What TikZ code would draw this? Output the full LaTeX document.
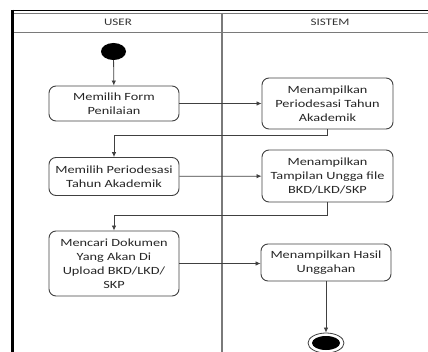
\documentclass[tikz,border=0pt]{standalone}
\usepackage{fontspec}
\newfontfamily\lanefont[FakeStretch=1.3]{Carlito}
\usetikzlibrary{shapes.geometric,arrows.meta}
\definecolor{boxline}{HTML}{404040}
\definecolor{laneline}{HTML}{7A7A7A}
\begin{document}
\begin{tikzpicture}[x=1pt,y=-1pt,
  act/.style={draw=boxline,line width=0.9pt,rounded corners=7pt,align=center,inner sep=0pt,
    text=black!85,font=\lanefont\fontsize{11}{14}\selectfont},
  flow/.style={draw=boxline,line width=0.8pt,-{Latex[length=5pt,width=4.5pt]}},
  lanetitle/.style={font=\lanefont\fontsize{10}{12}\selectfont,text=black!80}]
\useasboundingbox (0,0) rectangle (428,352);
\clip (0,0) rectangle (428,352);
  \draw[laneline, line width=1.5pt] (222,13) -- (222,352);
  \draw[laneline, line width=0.8pt] (13,32) -- (428,32);
  \draw[laneline, line width=0.8pt] (13,13.5) -- (428,13.5);
  \draw[black, line width=1.6pt] (11,10.5) -- (428,10.5);
  \draw[black, line width=2.5pt] (12.5,9.7) -- (12.5,352);
\node[lanetitle] at (118,22.5) (user) {USER};
\node[lanetitle] at (330,22.5) (sistem) {SISTEM};
\node[ellipse,fill=black,minimum width=25pt,minimum height=17pt,inner sep=0pt] at (113.5,51.5) (start) {};
\node[act,minimum width=130pt,minimum height=35pt] at (114,103.5) (pilihform) {Memilih Form\\Penilaian};
\node[act,minimum width=131pt,minimum height=51pt] at (327.5,103.5) (tampilperiode) {Menampilkan\\Periodesasi Tahun\\Akademik};
\node[act,minimum width=130pt,minimum height=38pt] at (114,176.5) (pilihperiode) {Memilih Periodesasi\\Tahun Akademik};
\node[act,minimum width=131pt,minimum height=52pt] at (327.5,176) (tampilunggah) {Menampilkan\\Tampilan Ungga file\\BKD/LKD/SKP};
\node[act,minimum width=130pt,minimum height=65pt] at (114,263.5) (caridokumen) {Mencari Dokumen\\Yang Akan Di\\Upload BKD/LKD/\\SKP};
\node[act,minimum width=130pt,minimum height=37pt] at (326,262.5) (hasilunggah) {Menampilkan Hasil\\Unggahan};
\node[ellipse,draw=boxline,line width=0.8pt,minimum width=36pt,minimum height=20pt,inner sep=0pt] at (326,343) (finish) {};
\node[ellipse,fill=black,minimum width=28pt,minimum height=14pt,inner sep=0pt] at (finish.center) (finishdot) {};
  \draw[flow] (start) -- (pilihform);
  \draw[flow] (pilihform) -- (tampilperiode);
  \draw[flow] (tampilperiode.south) -- ++(0,6) -| (pilihperiode.north);
  \draw[flow] (pilihperiode) -- (tampilunggah);
  \draw[flow] (tampilunggah.south) -- ++(0,13) -| (caridokumen.north);
  \draw[flow] (caridokumen.east) -- (caridokumen.east -| hasilunggah.west);
  \draw[flow] (hasilunggah) -- (finish);
\end{tikzpicture}
\end{document}
